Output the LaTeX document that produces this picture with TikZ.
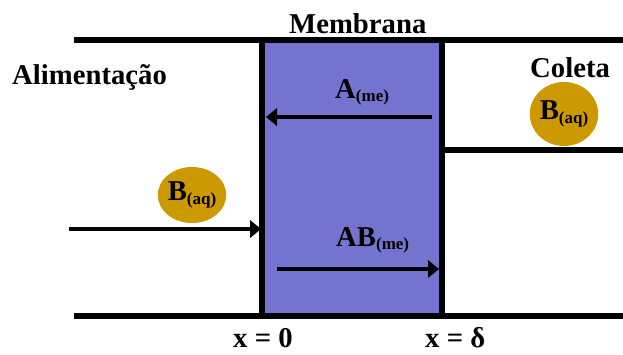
\documentclass[tikz,border=0pt]{standalone}
\usepackage{fontspec}
\setmainfont{Liberation Serif}
\usetikzlibrary{arrows.meta,shapes.geometric}
\definecolor{membcolor}{RGB}{116,116,208}
\definecolor{gotacolor}{RGB}{204,153,0}
\newcommand{\subtxt}[1]{\raisebox{-3.4pt}{\fontsize{14.5}{15}\selectfont #1}}
\begin{document}
\begin{tikzpicture}[x=0.03cm,y=-0.03cm,
    parede/.style={line width=5.2pt},
    fluxo/.style={line width=2.6pt,-{Triangle[length=0.33cm,width=0.52cm]}},
    rotulo/.style={font=\fontsize{24.5}{28}\selectfont\bfseries,inner sep=0pt,anchor=base west},
    gota/.style={ellipse,fill=gotacolor,inner sep=0pt,font=\fontsize{24.5}{28}\selectfont\bfseries}]
    \useasboundingbox (0,0) rectangle (623,354);
    % membrana
    \fill[membcolor] (262,40) rectangle (442,316);
    \draw[parede] (74,40)--(623,40);
    \draw[parede] (74,316)--(623,316);
    \draw[line width=4.4pt] (262,40)--(262,316);
    \draw[line width=4.4pt] (442,40)--(442,316);
    \draw[line width=4.4pt] (442,150)--(623,150);
    % textos
    \node[rotulo] (memb) at (289,33) {Membrana};
    \node[rotulo] (alim) at (12,84) {Alimentação};
    \node[rotulo] (col) at (530,77) {Coleta};
    \node[rotulo] (ame) at (335,98) {A\subtxt{(me)}};
    \node[rotulo] (abme) at (336,246) {AB\subtxt{(me)}};
    \node[rotulo] (x0) at (233,347) {x = 0};
    \node[rotulo] (xd) at (425,347) {x = δ};
    % gotas
    \node[gota,minimum width=62*0.03cm,minimum height=56*0.03cm] (baqe) at (192,195) {B\subtxt{(aq)}};
    \node[gota,minimum width=65*0.03cm,minimum height=64*0.03cm] (baqd) at (564,114) {B\subtxt{(aq)}};
    % setas
    \coordinate (a1) at (432,117);
    \coordinate (a2) at (266,117);
    \coordinate (f1) at (69,229);
    \coordinate (f2) at (261,229);
    \coordinate (b1) at (277,269);
    \coordinate (b2) at (439,269);
    \draw[fluxo] (a1)--(a2);
    \draw[fluxo] (f1)--(f2);
    \draw[fluxo] (b1)--(b2);
\end{tikzpicture}
\end{document}
